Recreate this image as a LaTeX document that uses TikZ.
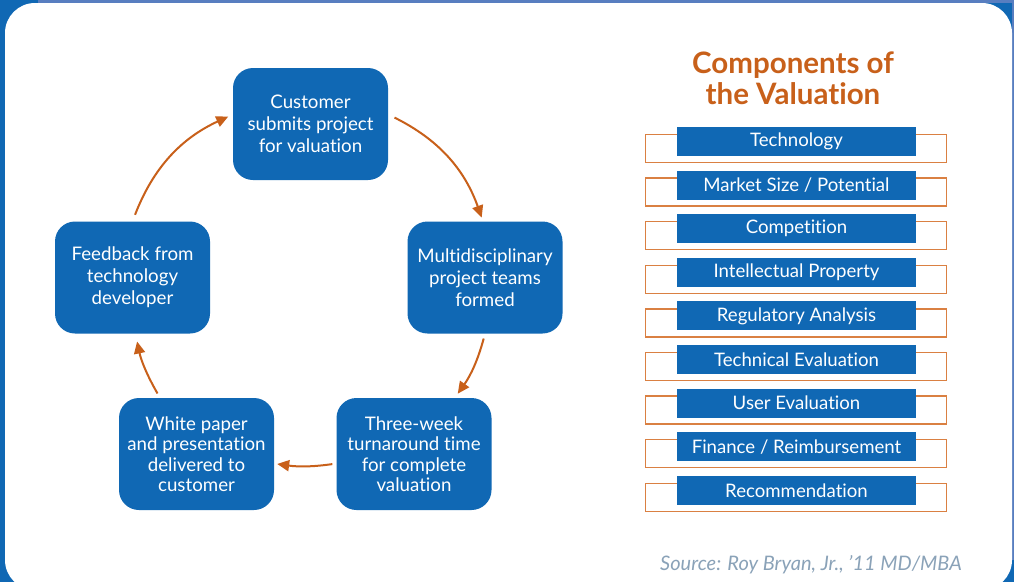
\documentclass[tikz,border=0pt]{standalone}
\usepackage{fontspec}
\setmainfont{Lato}[Ligatures=NoCommon]
\usetikzlibrary{positioning, arrows.meta}
\definecolor{boxblue}{RGB}{16,104,180}
\definecolor{framelight}{RGB}{88,126,192}
\definecolor{rust}{RGB}{200,96,26}
\definecolor{outline}{RGB}{218,128,66}
\definecolor{sourcegrey}{RGB}{138,162,184}
\tikzset{
  stepnode/.style={
    rectangle, rounded corners=20pt, fill=boxblue, text=white,
    minimum width=155pt, minimum height=112pt, inner sep=2pt,
    align=center, font=\fontsize{18.7}{22}\selectfont
  },
  fourline/.style={font=\fontsize{18.7}{20.5}\selectfont},
  cycle arrow/.style={draw=rust, line width=2pt, -{Triangle[length=12pt,width=11pt]}},
  component/.style={
    rectangle, fill=boxblue, text=white, minimum width=239pt,
    minimum height=29pt, inner sep=0pt, font=\fontsize{18.6}{22}\selectfont
  },
  component frame/.style={draw=outline, line width=1.5pt, minimum width=301pt, minimum height=28pt, inner sep=0pt},
  heading/.style={text=rust, align=center, font=\bfseries\fontsize{29.5}{31}\selectfont},
}

\begin{document}
\begin{tikzpicture}[x=1pt, y=-1pt]
  \clip (0,0) rectangle (1014,582);
  % panel and frame
  \fill[boxblue] (0,0) rectangle (1014,582);
  \fill[framelight] (38,0) rectangle (1014,3);
  \fill[framelight] (1012,0) rectangle (1014,560);
  \fill[white, rounded corners=30pt] (5,3) rectangle (1012,590);

  % valuation cycle
  \node[stepnode] (submit) at (310.5,124) {Customer\\submits project\\for valuation};
  \node[stepnode] (teams) at (485,277.5) {Multidisciplinary\\project teams\\formed};
  \node[stepnode, fourline] (turnaround) at (414,454) {Three-week\\turnaround time\\for complete\\valuation};
  \node[stepnode, fourline] (paper) at (196.5,454) {White paper\\and presentation\\delivered to\\customer};
  \node[stepnode] (feedback) at (132.5,277.5) {Feedback from\\technology\\developer};

  \draw[cycle arrow, shorten <=7pt, shorten >=4pt] (submit.7) to[bend left=22] (teams.92);
  \draw[cycle arrow, shorten <=5pt, shorten >=5pt] (teams.270) to[bend left=10] (turnaround.54);
  \draw[cycle arrow, shorten <=4pt, shorten >=3pt] (turnaround.187) to[bend left=8] (paper.-7);
  \draw[cycle arrow, shorten <=5pt, shorten >=8pt] (paper.123) to[bend left=9] (feedback.273);
  \draw[cycle arrow, shorten <=7pt, shorten >=5pt] (feedback.90) to[bend left=22] (submit.173);

  % components list
  \node[heading] (title) at (793,78) {Components of\\the Valuation};
  \foreach \name [count=\i from 0] in {Technology, Market Size / Potential, Competition,
      Intellectual Property, Regulatory Analysis, Technical Evaluation,
      User Evaluation, Finance / Reimbursement, Recommendation} {
    \node[component frame] (frame\i) at (796, 148.5+43.6*\i) {};
    \node[component] (item\i) at (796.5, 141.5+43.6*\i) {\name};
  }

  \node[anchor=base east, inner sep=0pt, text=sourcegrey, font=\itshape\fontsize{20}{22}\selectfont] (source) at (962,570) {Source: Roy Bryan, Jr., ’11 MD/MBA};
\end{tikzpicture}
\end{document}
